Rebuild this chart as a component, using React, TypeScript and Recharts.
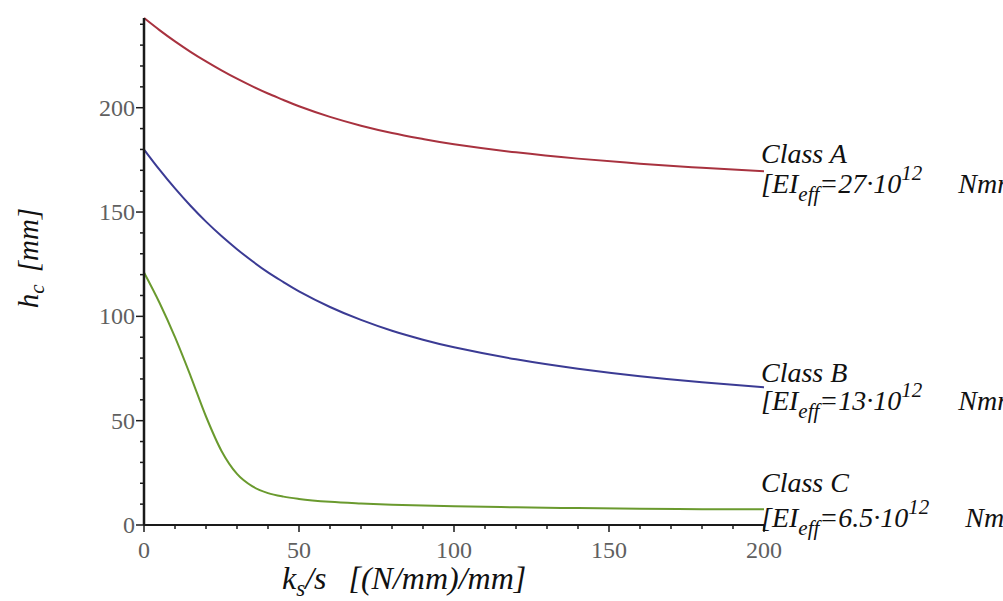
import { LineChart, Line, XAxis, YAxis, Label } from "recharts";

const ksRatio = [0, 5, 10, 15, 20, 25, 30, 35, 40, 45, 50, 60, 70, 80, 90, 100, 120, 140, 160, 180, 200];
const classA = [243, 237.2, 231.8, 226.8, 222.2, 217.9, 213.9, 210.2, 206.8, 203.7, 200.7, 195.6, 191.4, 187.9, 185, 182.5, 178.6, 175.6, 173.2, 171.2, 169.5];
const classB = [180, 170.3, 161.3, 153, 145.4, 138.5, 132.2, 126.4, 121.1, 116.4, 112, 104.5, 98.3, 93.1, 88.8, 85.2, 79.4, 74.9, 71.3, 68.4, 66];
const classC = [121, 106.5, 90, 71.5, 52, 35.5, 24.5, 18.5, 15.3, 13.6, 12.5, 11.1, 10.3, 9.7, 9.3, 9, 8.5, 8.1, 7.8, 7.6, 7.5];

const classNames = ["Class A", "Class B", "Class C"];
const eiValues = ["27", "13", "6.5"];

const xTicks = [0, 10, 20, 30, 40, 50, 60, 70, 80, 90, 100, 110, 120, 130, 140, 150, 160, 170, 180, 190, 200];
const yTicks = [0, 10, 20, 30, 40, 50, 60, 70, 80, 90, 100, 110, 120, 130, 140, 150, 160, 170, 180, 190, 200, 210, 220, 230, 240];

const data = ksRatio.map((k, i) => ({ k, a: classA[i], b: classB[i], c: classC[i] }));

const serif = "'Liberation Serif', 'DejaVu Serif', serif";
const tickGray = "#606060";
const axisColor = "#1a1a1a";

function XTick(props: any) {
  const { x, y, payload } = props;
  const major = payload.value % 50 === 0;
  return (
    <g>
      <line x1={x} x2={x} y1={y} y2={y + (major ? 7 : 4)} stroke={axisColor} strokeWidth={1.5} />
      {major && (
        <text x={x} y={y + 33} textAnchor="middle" fontFamily={serif} fontSize={24} fill={tickGray}>
          {payload.value}
        </text>
      )}
    </g>
  );
}

function YTick(props: any) {
  const { x, y, payload } = props;
  const major = payload.value % 50 === 0;
  return (
    <g>
      <line x1={x} x2={x - (major ? 8 : 4)} y1={y} y2={y} stroke={axisColor} strokeWidth={1.5} />
      {major && (
        <text x={x - 9} y={y + 8} textAnchor="end" fontFamily={serif} fontSize={24} fill={tickGray}>
          {payload.value}
        </text>
      )}
    </g>
  );
}

// two-line class label placed at the last point of each curve
function endLabel(idx: number, up: number, down: number) {
  return (p: any) => {
    if (p.index !== ksRatio.length - 1) return null;
    const x = p.x - 3;
    const y = p.y;
    return (
      <g fontFamily={serif} fontStyle="italic" fontSize={28} fill="#111">
        <text x={x} y={y + up}>{classNames[idx]}</text>
        <text x={x} y={y + down}>
          [EI
          <tspan dy={8} fontSize={21}>eff</tspan>
          <tspan dy={-8}>={eiValues[idx]}·10</tspan>
          <tspan dy={-13} fontSize={21}>12</tspan>
          <tspan dx={36} dy={13}>Nmm²]</tspan>
        </text>
      </g>
    );
  };
}

export default function App() {
  return (
    <div style={{ position: "absolute", left: 0, top: 0, width: 1003, height: 601, background: "#fff", overflow: "hidden" }}>
      <LineChart width={1003} height={601} data={data} margin={{ top: 18, right: 239, bottom: 0, left: 0 }}>
        <XAxis
          dataKey="k"
          type="number"
          domain={[0, 200]}
          ticks={xTicks}
          interval={0}
          height={76}
          tickSize={0}
          tickMargin={0}
          tickLine={false}
          tick={<XTick />}
          axisLine={{ stroke: axisColor, strokeWidth: 2 }}
        >
          <Label
            content={() => (
              <text x={282} y={589} fontFamily={serif} fontStyle="italic" fontSize={32} fill="#111">
                k<tspan dy={7} fontSize={23}>s</tspan>
                <tspan dy={-7}>/s</tspan>
                <tspan dx={22}>[(N/mm)/mm]</tspan>
              </text>
            )}
          />
        </XAxis>
        <YAxis
          type="number"
          domain={[0, 243]}
          ticks={yTicks}
          interval={0}
          width={144}
          tickSize={0}
          tickMargin={0}
          tickLine={false}
          tick={<YTick />}
          axisLine={{ stroke: axisColor, strokeWidth: 2.5 }}
        >
          <Label
            content={() => (
              <text
                x={38}
                y={258}
                transform="rotate(-90 38 258)"
                textAnchor="middle"
                fontFamily={serif}
                fontStyle="italic"
                fontSize={29}
                fill="#111"
              >
                h<tspan dy={6} fontSize={21}>c</tspan>
                <tspan dy={-6} dx={12}>[mm]</tspan>
              </text>
            )}
          />
        </YAxis>
        <Line type="natural" dataKey="a" stroke="#a8323f" strokeWidth={2} dot={false} isAnimationActive={false} label={endLabel(0, -8, 22)} />
        <Line type="natural" dataKey="b" stroke="#3b3b94" strokeWidth={2} dot={false} isAnimationActive={false} label={endLabel(1, -5, 23)} />
        <Line type="monotone" dataKey="c" stroke="#6a9a2e" strokeWidth={2} dot={false} isAnimationActive={false} label={endLabel(2, -17, 18)} />
      </LineChart>
    </div>
  );
}
